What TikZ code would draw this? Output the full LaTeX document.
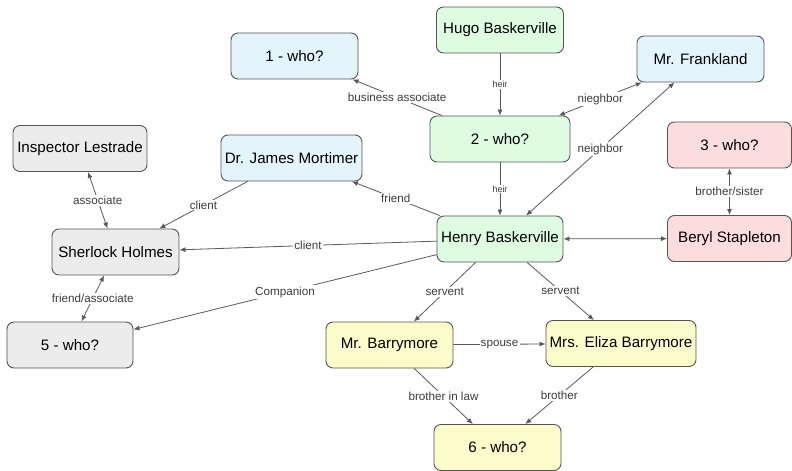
\documentclass[tikz,border=0pt]{standalone}
\usepackage{fontspec}
\setmainfont{Liberation Sans}
\usetikzlibrary{arrows.meta}
\definecolor{cgreen}{RGB}{221,252,225}
\definecolor{cblue}{RGB}{228,244,252}
\definecolor{cred}{RGB}{252,221,221}
\definecolor{cgray}{RGB}{236,236,236}
\definecolor{cyellow}{RGB}{252,252,202}
\definecolor{cborder}{RGB}{85,85,85}
\definecolor{cline}{RGB}{90,90,90}
\definecolor{clabel}{RGB}{60,60,60}
\begin{document}
\begin{tikzpicture}[x=1bp,y=-1bp,
  box/.style={draw=cborder, line width=0.9bp, rounded corners=7bp,
    minimum width=127bp, minimum height=46bp, inner sep=0pt,
    font=\fontsize{15.2}{18}\selectfont, text=black},
  green/.style={box, fill=cgreen},
  blue/.style={box, fill=cblue},
  red/.style={box, fill=cred},
  gray/.style={box, fill=cgray},
  yellow/.style={box, fill=cyellow},
  rel/.style={draw=cline, line width=0.8bp},
  arr/.style={-{Latex[length=6bp,width=5bp]}},
  both/.style={{Latex[length=6bp,width=5bp]}-{Latex[length=6bp,width=5bp]}},
  lab/.style={fill=white, inner sep=1.2bp, font=\fontsize{11.7}{13}\selectfont, text=clabel},
  smalllab/.style={lab, font=\fontsize{9}{11}\selectfont}
]
\useasboundingbox (0,0) rectangle (792,471);
\fill[white] (0,0) rectangle (792,471);

% nodes
\node[green] (hugo) at (500,30) {Hugo Baskerville};
\node[blue] (who1) at (294.5,56) {1 - who?};
\node[green, minimum width=140bp] (who2) at (500,139) {2 - who?};
\node[blue] (frank) at (700.5,59) {Mr. Frankland};
\node[red, minimum width=124bp] (who3) at (729.5,145) {3 - who?};
\node[red, minimum width=124bp] (beryl) at (729.5,238.5) {Beryl Stapleton};
\node[gray, minimum width=134bp] (lestrade) at (80,148.5) {Inspector Lestrade};
\node[blue, minimum width=141bp] (mortimer) at (291.5,158) {Dr. James Mortimer};
\node[gray] (sherlock) at (115.5,252) {Sherlock Holmes};
\node[green, minimum width=126bp] (henry) at (500,239) {Henry Baskerville};
\node[gray, minimum width=126bp] (who5) at (70,345) {5 - who?};
\node[yellow] (barry) at (389.5,345) {Mr. Barrymore};
\node[yellow, minimum width=150bp] (eliza) at (621,343.5) {Mrs. Eliza Barrymore};
\node[yellow] (who6) at (497.5,447.5) {6 - who?};

% connectors
\draw[rel,arr] (hugo) -- node[smalllab]{heir} (who2);
\draw[rel,arr] (who2) -- node[lab]{business associate} (who1);
\draw[rel,both] (who2) -- node[lab]{nieghbor} (frank);
\draw[rel,both] (henry) -- node[lab]{neighbor} (frank);
\draw[rel,arr] (who2) -- node[smalllab]{heir} (henry);
\draw[rel,both] (lestrade) -- node[lab]{associate} (sherlock);
\draw[rel,arr] (mortimer) -- node[lab]{client} (sherlock);
\draw[rel,arr] (henry) -- node[lab]{friend} (mortimer);
\draw[rel,arr] (henry) -- node[lab]{client} (sherlock);
\draw[rel,both] (henry) -- (beryl);
\draw[rel,both] (who3) -- node[lab]{brother/sister} (beryl);
\draw[rel,both] (sherlock) -- node[lab]{friend/associate} (who5);
\draw[rel,arr] (henry) -- node[lab]{Companion} (who5);
\draw[rel,arr] (henry) -- node[lab]{servent} (barry);
\draw[rel,arr] (henry) -- node[lab]{servent} (eliza);
\draw[rel,arr] (barry) -- node[lab]{spouse} (eliza);
\draw[rel,arr] (barry) -- node[lab]{brother in law} (who6);
\draw[rel,arr] (eliza) -- node[lab]{brother} (who6);
\end{tikzpicture}
\end{document}
